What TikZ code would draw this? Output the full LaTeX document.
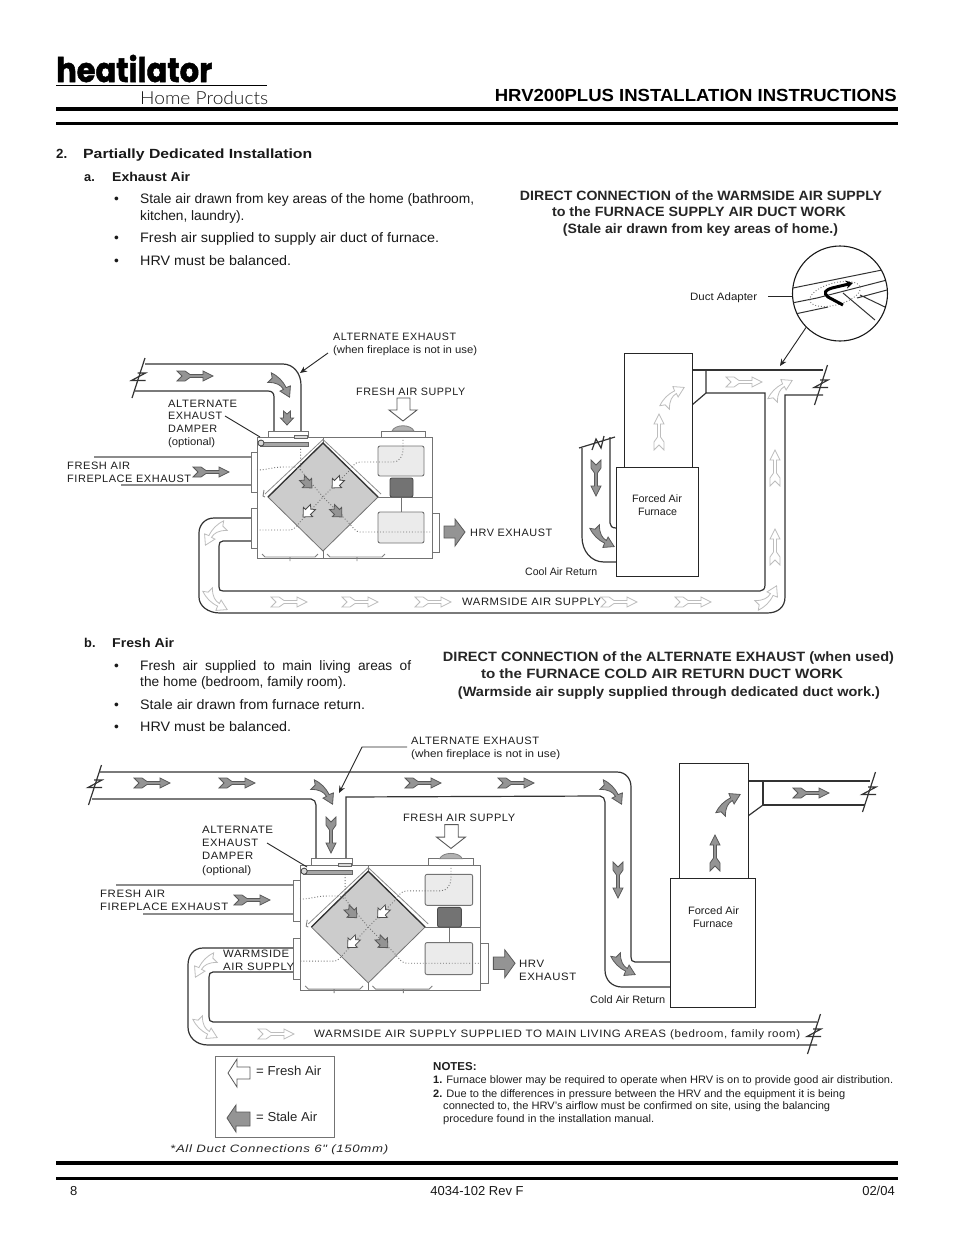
\documentclass[tikz,border=0pt]{standalone}
\usepackage{graphicx}
\usepackage{fontspec}
\setmainfont{Liberation Sans}
\newfontfamily\arsp[LetterSpace=5]{Liberation Sans}
\newfontfamily\pop[BoldFeatures={FakeBold=1.5}]{Poppins}
\newfontfamily\lato{Lato Light}
\usetikzlibrary{arrows.meta}
\definecolor{stalefill}{gray}{0.58}
\definecolor{staleline}{gray}{0.35}
\definecolor{freshline}{gray}{0.74}
\definecolor{duct}{gray}{0.2}
\newcommand{\W}[2]{\resizebox{#1pt}{\height}{#2}}
\tikzset{
  x=1pt,y=-1pt,
  body/.style={anchor=base west,inner sep=0pt,yshift=-5pt,font=\fontsize{13.7}{16}\selectfont,text=black!90},
  bodyb/.style={body,font=\fontsize{13.3}{16}\selectfont\bfseries},
  head/.style={anchor=base,inner sep=0pt,yshift=-5pt,font=\fontsize{13.5}{16}\selectfont\bfseries,text=black!85},
  lbl/.style={anchor=base west,inner sep=0pt,yshift=-4pt,font=\arsp\fontsize{10.7}{12}\selectfont,text=black!88},
  sml/.style={anchor=base west,inner sep=0pt,yshift=-4pt,font=\fontsize{10.7}{12}\selectfont,text=black!88},
  ctr/.style={sml,anchor=base},
  note/.style={anchor=base west,inner sep=0pt,yshift=-4pt,font=\fontsize{10.8}{12}\selectfont,text=black!88},
  ductline/.style={draw=duct,line width=1.2pt},
  boxline/.style={draw=black!85,line width=1.2pt},
  unitline/.style={draw=black!55,line width=1pt},
  airdot/.style={draw=black!55,line width=.9pt,dotted},
  stale/.style={draw=staleline,fill=stalefill,line width=.8pt},
  fresh/.style={draw=freshline,fill=white,line width=.8pt},
  whitear/.style={draw=black!70,fill=white,line width=.8pt},
  leader/.style={draw=black!85,line width=.9pt},
  ar/.style={leader,-{Stealth[length=7pt,width=6pt]}},
  rule/.style={draw=black,line width=3.3pt},
  grayduct/.style={draw=black!45,line width=2.6pt}
}
% straight feathered arrow
\newcommand{\strA}[4]{\begin{scope}[shift={(#1,#2)},rotate=#3]
  \path[#4] (-18,-5)--(-10,-5)--(-5,-1.5)--(8,-1.5)--(8,-5)--(18,0)--(8,5)--(8,1.5)--(-5,1.5)--(-10,5)--(-18,5)--(-13,0)--cycle;
\end{scope}}
% curved arrow, right then down
\newcommand{\curA}[4]{\begin{scope}[shift={(#1,#2)},#3,scale=.87]
  \path[#4] (-10,-14) .. controls (-2,-10) and (3,-5) .. (7,3) -- (12,1) -- (11,14) -- (0,7) -- (4,5) .. controls (1,0) and (-4,-3) .. (-14,-3) -- (-9,-8) -- cycle;
\end{scope}}
% small block arrow
\newcommand{\fatA}[4]{\begin{scope}[shift={(#1,#2)},rotate=#3]
  \path[#4] (-7,-3.5)--(0,-3.5)--(0,-6.5)--(7,0)--(0,6.5)--(0,3.5)--(-7,3.5)--(-4,0)--cycle;
\end{scope}}
% duct break mark
\newcommand{\brk}[2]{\begin{scope}[shift={(#1,#2)}]
  \draw[ductline] (6.5,-20)--(-6.5,20);
  \draw[ductline] (-1,-5)--(7,-5)--(-7,2.5)--(7,2.5);
\end{scope}}
% the HRV unit, local origin at upper left of its box
\newcommand{\hrvunit}[3]{\begin{scope}[shift={(#1,#2)},scale=#3]
  \path[unitline,fill=white] (0,0) rectangle (175,121);
  \path[unitline,fill=white] (-6,15) rectangle (0,55);
  \path[unitline,fill=white] (-6,71) rectangle (0,111);
  \path[unitline,fill=white] (175,76) rectangle (182,115);
  \path[draw=black!55,line width=1pt] (121,60)--(175,60) (66,0)--(66,6) (66,114)--(66,121) (144.5,60)--(144.5,75);
  \path[draw=black!55,line width=.8pt,fill=black!20] (11,60)--(66,6)--(121,60)--(66,114)--cycle;
  \path[draw=black!80,line width=1.3pt] (11,60)--(66,6)--(121,60);
  \path[draw=black!45,line width=.8pt] (8,57)--(66,2.5)--(124,57);
  \path[draw=black!55,line width=.9pt,fill=black!8,rounded corners=2pt] (121,9) rectangle (167,39);
  \path[draw=black!55,line width=.9pt,fill=black!8,rounded corners=2pt] (121,75) rectangle (167,106);
  \path[draw=black!70,line width=.9pt,fill=black!55,rounded corners=2pt] (133,41) rectangle (156,60);
  \path[airdot] (43.6,9)--(43.6,33)--(66,60)--(91,85) .. controls (96,91) and (99,95) .. (103,95)--(175,95);
  \path[airdot] (0,33) .. controls (10,33) and (16,30) .. (26,30)--(38,30)--(43.6,33);
  \path[airdot] (146,0)--(146,12) .. controls (146,20) and (142,25) .. (136,25)--(103,25) .. controls (98,25) and (95,30) .. (91,35)--(66,60)--(43,85) .. controls (39,90) and (36,93) .. (33,93)--(0,93);
  \path[draw=black!50,line width=.9pt] (5,117)--(8,120)--(58,120)--(61,117) (70,117)--(73,120)--(125,120)--(128,117) (33,120)--(33,124) (100,120)--(100,124) (7,53)--(6,59)--(8,60);
  \path[unitline,fill=white] (11,-6) rectangle (51,0);
  \path[draw=black!60,line width=.7pt,fill=black!15] (37,-2) rectangle (50,1);
  \path[draw=black!60,line width=.7pt,fill=black!35] (3,5) rectangle (51,9);
  \path[draw=black!75,line width=.8pt,fill=black!15] (4,6) circle (3);
  \path[unitline,fill=white] (124,-6) rectangle (168,0);
  \path[draw=black!50,line width=.8pt,fill=black!30] (135,-6) .. controls (138,-13) and (154,-13) .. (157,-6)--cycle;
  \path[draw=black!65,line width=.9pt,fill=white] (140,-39)--(153,-39)--(153,-27)--(160,-27)--(146,-16)--(132,-27)--(140,-27)--cycle;
  \path[stale] (187,89)--(198,89)--(198,82)--(208,95)--(198,109)--(198,101)--(187,101)--cycle;
  \fatA{50}{46}{-45}{stale}
  \fatA{80}{46}{-135}{whitear}
  \fatA{51}{75}{-135}{whitear}
  \fatA{80}{75}{-45}{stale}
\end{scope}}
\begin{document}
\begin{tikzpicture}
\useasboundingbox (0,0) rectangle (954,1235);
\fill[white] (0,0) rectangle (954,1235);
%% ---------- letterhead
\node[anchor=base west,inner sep=0pt,font=\pop\bfseries\fontsize{34}{36}\selectfont] (logo) at (56,82) {\W{156}{heatilator}};
\node[anchor=base west,inner sep=0pt,font=\lato\fontsize{18}{20}\selectfont,text=black!90] (logob) at (140,104) {\W{128}{Home Products}};
\draw[line width=.8pt] (56,85)--(267,85);
\draw[rule] (56,109)--(898,109);
\draw[rule,line width=3pt] (56,123)--(898,123);
\node[anchor=base east,inner sep=0pt,font=\fontsize{17.5}{20}\selectfont\bfseries] (title) at (897,101) {\W{402}{HRV200PLUS INSTALLATION INSTRUCTIONS}};
%% ---------- left column, part a
\node[bodyb] (n2) at (56,153) {2.};
\node[bodyb] (t2) at (83,153) {\W{229}{Partially Dedicated Installation}};
\node[bodyb,font=\fontsize{12.8}{15}\selectfont\bfseries] (na) at (84,176) {a.};
\node[bodyb,font=\fontsize{12.8}{15}\selectfont\bfseries] (ta) at (112,176) {\W{78}{Exhaust Air}};
\node[body] (b1) at (114,198) {•};
\node[body] (l1) at (140,198) {\W{334}{Stale air drawn from key areas of the home (bathroom,}};
\node[body] (l2) at (140,215) {kitchen, laundry).};
\node[body] (b2) at (114,237) {•};
\node[body] (l3) at (140,237) {\W{299}{Fresh air supplied to supply air duct of furnace.}};
\node[body] (b3) at (114,260) {•};
\node[body] (l4) at (140,260) {\W{151}{HRV must be balanced.}};
%% ---------- left column, part b
\node[bodyb,font=\fontsize{12.8}{15}\selectfont\bfseries] (nb) at (84,642) {b.};
\node[bodyb,font=\fontsize{12.8}{15}\selectfont\bfseries] (tb) at (112,642) {\W{62}{Fresh Air}};
\node[body] (b4) at (114,665) {•};
\node[body] (l5) at (140,665) {\makebox[271pt][s]{Fresh air supplied to main living areas of}};
\node[body] (l6) at (140,681) {the home (bedroom, family room).};
\node[body] (b5) at (114,704) {•};
\node[body] (l7) at (140,704) {\W{225}{Stale air drawn from furnace return.}};
\node[body] (b6) at (114,726) {•};
\node[body] (l8) at (140,726) {\W{151}{HRV must be balanced.}};
%% ---------- headings of the figures
\node[head] (ha1) at (701,195) {\W{362}{DIRECT CONNECTION of the WARMSIDE AIR SUPPLY}};
\node[head] (ha2) at (699,211) {\W{294}{to the  FURNACE SUPPLY AIR DUCT WORK}};
\node[head] (ha3) at (700.5,228) {\W{275}{(Stale air drawn from key areas of home.)}};
\node[head] (hb1) at (668.5,656) {\W{451}{DIRECT CONNECTION of the ALTERNATE EXHAUST (when used)}};
\node[head] (hb2) at (662,673) {\W{362}{to the FURNACE COLD AIR RETURN DUCT WORK}};
\node[head] (hb3) at (669,691) {\W{422}{(Warmside air supply supplied through dedicated duct work.)}};
%% ---------- figure A ducts
\draw[ductline] (145,364)--(283,364) .. controls (293,364) and (301,373) .. (301,385)--(301,431);
\draw[ductline] (135,391)--(268,391) .. controls (272,391) and (274,393) .. (274,397)--(274,431);
\brk{138.5}{378}
\draw[grayduct] (94,457)--(251,457);
\draw[grayduct] (121,485)--(251,485);
\draw[ductline] (251,518)--(214,518) .. controls (205,518) and (199,525) .. (199,533)--(199,597) .. controls (199,606) and (208,613) .. (220,613)--(767,613) .. controls (778,613) and (785,607) .. (785,597)--(785,395)--(823,395);
\draw[ductline] (251,541)--(223,541) .. controls (220,541) and (219,543) .. (219,546)--(219,587) .. controls (219,590) and (220,591) .. (223,591)--(760,591) .. controls (763,591) and (765,589) .. (765,585)--(765,393)--(706,393)--(706,370);
\draw[ductline] (692,370)--(823,370);
\draw[ductline] (706,393)--(692,405);
\brk{821}{385}
\draw[ductline] (582,448)--(582,537) .. controls (582,551) and (591,562) .. (604,562)--(616,562);
\draw[ductline] (610,437)--(610,523) .. controls (610,526) and (612,528) .. (616,528);
\draw[ductline] (579,448)--(615,437) (592,450)--(596,439)--(601,448)--(604,436);
\node[boxline,fill=white,minimum width=68pt,minimum height=114pt,inner sep=0pt,anchor=north west] (plenA) at (624,353) {};
\node[boxline,fill=white,minimum width=82pt,minimum height=109pt,inner sep=0pt,anchor=north west] (furnA) at (616,467) {};
\hrvunit{257}{437}{1}
%% figure A arrows
\strA{195}{376}{0}{stale}
\curA{280}{385}{}{stale}
\fatA{287}{418}{-90}{stale}
\strA{211}{472}{0}{stale}
\strA{596}{478}{-90}{stale}
\curA{602}{537}{xscale=-1,rotate=-90}{stale}
\curA{215}{533}{xscale=-1}{fresh}
\curA{215}{600}{xscale=-1,rotate=-90}{fresh}
\strA{289}{602}{0}{fresh}
\strA{360}{602}{0}{fresh}
\strA{433}{602}{0}{fresh}
\strA{619}{602}{0}{fresh}
\strA{693}{602}{0}{fresh}
\curA{767}{598}{yscale=-1}{fresh}
\strA{775}{547}{90}{fresh}
\strA{775}{468}{90}{fresh}
\curA{780}{390}{rotate=90}{fresh}
\strA{744}{382}{0}{fresh}
\curA{672}{397}{rotate=90}{fresh}
\strA{659}{432}{90}{fresh}
%% figure A labels
\node[sml,font=\arsp\fontsize{10.7}{12}\selectfont] (aa1) at (333,336) {\W{123}{ALTERNATE EXHAUST}};
\node[sml] (aa2) at (333,349) {\W{144}{(when fireplace is not in use)}};
\node[lbl] (af) at (356,391) {\W{109}{FRESH AIR SUPPLY}};
\node[lbl] (ad1) at (168,403) {\W{69}{ALTERNATE}};
\node[lbl] (ad2) at (168,415) {\W{54}{EXHAUST}};
\node[lbl] (ad3) at (168,428) {\W{49}{DAMPER}};
\node[sml] (ad4) at (168,441) {\W{47}{(optional)}};
\node[lbl] (af1) at (67,465) {\W{63}{FRESH AIR}};
\node[lbl] (af2) at (67,478) {\W{124}{FIREPLACE EXHAUST}};
\node[lbl] (ahx) at (470,532) {\W{82}{HRV EXHAUST}};
\node[sml] (acr) at (525,571) {\W{72}{Cool Air Return}};
\node[lbl] (aws) at (462,601) {\W{139}{WARMSIDE AIR SUPPLY}};
\node[ctr] (afa1) at (657,498) {\W{50}{Forced Air}};
\node[ctr] (afa2) at (657.5,511) {\W{39}{Furnace}};
\coordinate (altAa) at (328,353);
\coordinate (altAb) at (300,373);
\draw[ar] (altAa)--(altAb);
\coordinate (damAa) at (225,416);
\coordinate (damAb) at (260,437);
\draw[leader] (damAa)--(damAb);
%% magnified duct adapter
\node[circle,draw=black!90,line width=1.1pt,minimum size=95pt,inner sep=0pt] (mag) at (840,293.5) {};
\begin{scope}
\clip (840,293.5) circle (47.5);
\draw[draw=black!80,line width=1pt] (793,288)--(882,270) (792,303)--(817,298) (817,298)--(887,280) (795,314)--(828,307) (843,293)--(875,320) (857,298)--(887,290) (860,295)--(887,308);
\draw[airdot,rotate around={15:(835,294)}] (835,294) ellipse (26 and 11);
\fill[black] (886,280) circle (1.5) (886,307) circle (1.5);
\end{scope}
\draw[line width=3pt,-{Stealth[length=7pt,width=8pt]}] (843,305) -- (828,297) .. controls (823,293) and (825,290) .. (832,288) -- (853,283);
\node[sml] (dal) at (690,296) {\W{67}{Duct Adapter}};
\coordinate (daa) at (768,296);
\draw[leader] (daa)--(mag.west |- daa);
\coordinate (dab) at (780,366);
\draw[ar] (mag.225)--(dab);
%% ---------- figure B ducts
\draw[ductline] (100,772)--(617,772) .. controls (626,772) and (631,779) .. (631,787)--(631,957) .. controls (631,960) and (632,962) .. (635,962)--(670,962);
\draw[ductline] (92,799)--(311,799) .. controls (314,799) and (316,802) .. (316,805)--(316,859);
\draw[ductline] (346,859)--(346,797)--(600,796) .. controls (603,796) and (605,799) .. (605,802)--(605,970) .. controls (605,980) and (612,987) .. (622,987)--(670,987);
\brk{95}{785}
\draw[grayduct] (116,885)--(293,885);
\draw[grayduct] (143,914)--(293,914);
\draw[ductline] (293,948)--(203,948) .. controls (194,948) and (188,955) .. (188,965)--(188,1027) .. controls (188,1037) and (196,1045) .. (208,1045)--(817,1045);
\draw[ductline] (293,972)--(213,972) .. controls (210,972) and (209,974) .. (209,977)--(209,1017) .. controls (209,1020) and (210,1022) .. (213,1022)--(817,1022);
\brk{814}{1034}
\draw[ductline] (748,781)--(870,781);
\draw[ductline] (763,781)--(763,805)--(865,805);
\draw[ductline] (763,805)--(748,816);
\brk{869}{792}
\node[boxline,fill=white,minimum width=69pt,minimum height=115pt,inner sep=0pt,anchor=north west] (plenB) at (679,763) {};
\node[boxline,fill=white,minimum width=85pt,minimum height=129pt,inner sep=0pt,anchor=north west] (furnB) at (670,878) {};
\hrvunit{300}{865}{1.034}
%% figure B arrows
\strA{152}{783}{0}{stale}
\strA{237}{783}{0}{stale}
\strA{423}{783}{0}{stale}
\strA{516}{783}{0}{stale}
\curA{323}{792}{}{stale}
\strA{331}{835}{-90}{stale}
\strA{252}{900}{0}{stale}
\curA{612}{792}{}{stale}
\strA{618}{880}{-90}{stale}
\curA{623}{965}{xscale=-1,rotate=-90}{stale}
\curA{728}{804}{rotate=90}{stale}
\strA{715}{853}{90}{stale}
\strA{811}{793}{0}{stale}
\curA{205}{965}{xscale=-1}{fresh}
\curA{205}{1028}{xscale=-1,rotate=-90}{fresh}
\strA{276}{1034}{0}{fresh}
%% figure B labels
\node[sml,font=\arsp\fontsize{10.7}{12}\selectfont] (ba1) at (411,740) {\W{128}{ALTERNATE EXHAUST}};
\node[sml] (ba2) at (411,753) {\W{149}{(when fireplace is not in use)}};
\node[lbl] (bf) at (403,817) {\W{112}{FRESH AIR SUPPLY}};
\node[lbl] (bd1) at (202,829) {\W{71}{ALTERNATE}};
\node[lbl] (bd2) at (202,842) {\W{56}{EXHAUST}};
\node[lbl] (bd3) at (202,855) {\W{51}{DAMPER}};
\node[sml] (bd4) at (202,869) {\W{49}{(optional)}};
\node[lbl] (bf1) at (100,893) {\W{65}{FRESH AIR}};
\node[lbl] (bf2) at (100,906) {\W{128}{FIREPLACE EXHAUST}};
\node[lbl] (bw1) at (223,953) {\W{66}{WARMSIDE}};
\node[lbl] (bw2) at (223,966) {\W{71}{AIR SUPPLY}};
\node[lbl] (bh1) at (519,963) {\W{25}{HRV}};
\node[lbl] (bh2) at (519,976) {\W{57}{EXHAUST}};
\node[sml] (bcr) at (590,999) {\W{75}{Cold Air Return}};
\node[lbl] (bws) at (314,1033) {\W{352}{WARMSIDE AIR SUPPLY SUPPLIED TO MAIN LIVING AREAS}};
\node[sml,font=\arsp\fontsize{10.7}{12}\selectfont] (bws2) at (670,1033) {\W{130}{(bedroom, family room)}};
\node[ctr] (bfa1) at (713.5,910) {\W{51}{Forced Air}};
\node[ctr] (bfa2) at (713,923) {\W{40}{Furnace}};
\coordinate (altBa) at (407,747);
\coordinate (altBb) at (362,747);
\coordinate (altBc) at (339,793);
\draw[ar] (altBa)--(altBb)--(altBc);
\coordinate (damBa) at (267,843);
\coordinate (damBb) at (307,867);
\draw[leader] (damBa)--(damBb);
%% ---------- legend
\node[draw=black!55,line width=1.1pt,minimum width=119pt,minimum height=81pt,inner sep=0pt,anchor=north west] (legend) at (215,1056) {};
\draw[draw=black!65,line width=.8pt,fill=white] (250,1067)--(237,1067)--(237,1059)--(228,1073)--(237,1087)--(237,1079)--(250,1079)--cycle;
\draw[draw=black!65,line width=.8pt,fill=stalefill] (250,1112)--(236,1112)--(236,1105)--(227,1118)--(236,1132)--(236,1126)--(250,1126)--cycle;
\node[anchor=base west,inner sep=0pt,yshift=-4pt,font=\fontsize{13}{14}\selectfont,text=black!85] (lf) at (256,1071) {\W{65}{= Fresh Air}};
\node[anchor=base west,inner sep=0pt,yshift=-4pt,font=\fontsize{13}{14}\selectfont,text=black!85] (ls) at (256,1117) {\W{61}{= Stale Air}};
\node[anchor=base west,inner sep=0pt,yshift=-4pt,font=\arsp\itshape\fontsize{10.7}{12}\selectfont,text=black!85] (dc) at (170,1148) {\W{218}{*All Duct Connections 6" (150mm)}};
%% ---------- notes
\node[note,font=\bfseries\fontsize{11.5}{12}\selectfont] (notes) at (433,1066) {NOTES:};
\node[note] (no1) at (433,1079) {\W{460}{\textbf{1.} Furnace blower may be required to operate when HRV is on to provide good air distribution.}};
\node[note] (no2) at (433,1093) {\W{412}{\textbf{2.} Due to the differences in pressure between the HRV and the equipment it is being}};
\node[note] (no3) at (443,1105) {\W{387}{connected to, the HRV's airflow must be confirmed on site, using the balancing}};
\node[note] (no4) at (443,1118) {\W{211}{procedure found in the installation manual.}};
%% ---------- footer
\draw[rule] (56,1163)--(898,1163);
\draw[rule,line width=3pt] (56,1178.5)--(898,1178.5);
\node[body,font=\fontsize{13}{15}\selectfont] (pg) at (70,1190) {8};
\node[body,anchor=base,font=\fontsize{13}{15}\selectfont] (doc) at (477,1190) {4034-102 Rev F};
\node[body,anchor=base east,font=\fontsize{13}{15}\selectfont] (dt) at (895,1190) {02/04};
\end{tikzpicture}
\end{document}
